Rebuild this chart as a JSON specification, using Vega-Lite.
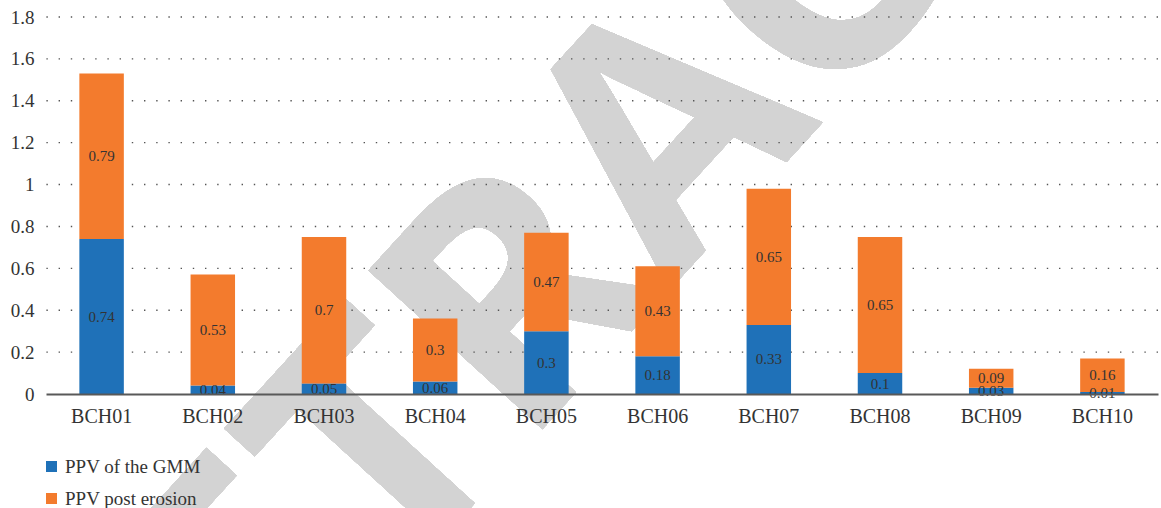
{
  "$schema": "https://vega.github.io/schema/vega-lite/v6.json",
  "autosize": "none",
  "width": 1112,
  "height": 377,
  "padding": {"left": 46, "top": 17, "right": 3, "bottom": 114},
  "background": "white",
  "config": {
    "view": {"stroke": null},
    "font": "Liberation Serif"
  },
  "datasets": {
    "ppv": [
      {"bch": "BCH01", "series": "PPV of the GMM", "value": 0.74},
      {"bch": "BCH01", "series": "PPV post erosion", "value": 0.79},
      {"bch": "BCH02", "series": "PPV of the GMM", "value": 0.04},
      {"bch": "BCH02", "series": "PPV post erosion", "value": 0.53},
      {"bch": "BCH03", "series": "PPV of the GMM", "value": 0.05},
      {"bch": "BCH03", "series": "PPV post erosion", "value": 0.7},
      {"bch": "BCH04", "series": "PPV of the GMM", "value": 0.06},
      {"bch": "BCH04", "series": "PPV post erosion", "value": 0.3},
      {"bch": "BCH05", "series": "PPV of the GMM", "value": 0.3},
      {"bch": "BCH05", "series": "PPV post erosion", "value": 0.47},
      {"bch": "BCH06", "series": "PPV of the GMM", "value": 0.18},
      {"bch": "BCH06", "series": "PPV post erosion", "value": 0.43},
      {"bch": "BCH07", "series": "PPV of the GMM", "value": 0.33},
      {"bch": "BCH07", "series": "PPV post erosion", "value": 0.65},
      {"bch": "BCH08", "series": "PPV of the GMM", "value": 0.1},
      {"bch": "BCH08", "series": "PPV post erosion", "value": 0.65},
      {"bch": "BCH09", "series": "PPV of the GMM", "value": 0.03},
      {"bch": "BCH09", "series": "PPV post erosion", "value": 0.09},
      {"bch": "BCH10", "series": "PPV of the GMM", "value": 0.01},
      {"bch": "BCH10", "series": "PPV post erosion", "value": 0.16}
    ],
    "gridLevels": [
      {"level": 0.2}, {"level": 0.4}, {"level": 0.6}, {"level": 0.8}, {"level": 1},
      {"level": 1.2}, {"level": 1.4}, {"level": 1.6}, {"level": 1.8}
    ]
  },
  "data": {"name": "ppv"},
  "transform": [
    {"stack": "value", "groupby": ["bch"], "sort": [{"field": "series", "order": "ascending"}], "as": ["v0", "v1"]},
    {"calculate": "(datum.v0 + datum.v1) / 2", "as": "labelPos"}
  ],
  "encoding": {
    "x": {
      "field": "bch",
      "type": "nominal",
      "scale": {
        "domain": ["BCH01", "BCH02", "BCH03", "BCH04", "BCH05", "BCH06", "BCH07", "BCH08", "BCH09", "BCH10"],
        "paddingInner": 0.6,
        "paddingOuter": 0.3
      },
      "axis": {
        "title": null,
        "zindex": 1,
        "labelAngle": 0,
        "labelFont": "Liberation Serif",
        "labelFontSize": 20,
        "labelColor": "#333333",
        "labelPadding": 12,
        "ticks": false,
        "domainColor": "#595959",
        "domainWidth": 2
      }
    }
  },
  "layer": [
    {
      "mark": {
        "type": "text",
        "text": "RETRACTED",
        "font": "Open Sans",
        "fontWeight": "bold",
        "fontSize": 330,
        "angle": -47.6,
        "align": "center",
        "baseline": "middle",
        "dx": 18,
        "dy": 13,
        "color": "#d3d3d3"
      },
      "encoding": {
        "x": {"datum": "BCH06"},
        "y": {"datum": 1.227, "type": "quantitative"}
      }
    },
    {
      "data": {"name": "gridLevels"},
      "mark": {"type": "rule", "color": "#555555", "strokeWidth": 1.4, "strokeDash": [1.4, 10.8]},
      "encoding": {
        "x": null,
        "y": {"field": "level", "type": "quantitative"}
      }
    },
    {
      "mark": {"type": "bar"},
      "encoding": {
        "y": {
          "field": "v0",
          "type": "quantitative",
          "scale": {"domain": [0, 1.8], "nice": false},
          "axis": {
            "title": null,
            "values": [0, 0.2, 0.4, 0.6, 0.8, 1, 1.2, 1.4, 1.6, 1.8],
            "format": "~g",
            "domain": false,
            "ticks": false,
            "grid": false,
            "labelFont": "Liberation Serif",
            "labelFontSize": 19,
            "labelColor": "#333333",
            "labelPadding": 12
          }
        },
        "y2": {"field": "v1"},
        "color": {
          "field": "series",
          "type": "nominal",
          "scale": {"domain": ["PPV of the GMM", "PPV post erosion"], "range": ["#1f71b8", "#f37b2d"]},
          "legend": {
            "title": null,
            "orient": "none",
            "legendX": -4,
            "legendY": 440,
            "direction": "vertical",
            "symbolType": "square",
            "symbolSize": 121,
            "symbolStrokeWidth": 0,
            "labelFont": "Liberation Serif",
            "labelFontSize": 19,
            "labelColor": "#333333",
            "labelOffset": 4,
            "rowPadding": 12,
            "padding": 0
          }
        }
      }
    },
    {
      "mark": {"type": "text", "font": "Liberation Serif", "fontSize": 15, "color": "#333333", "baseline": "middle"},
      "encoding": {
        "y": {"field": "labelPos", "type": "quantitative"},
        "text": {"field": "value", "type": "quantitative"}
      }
    }
  ]
}
